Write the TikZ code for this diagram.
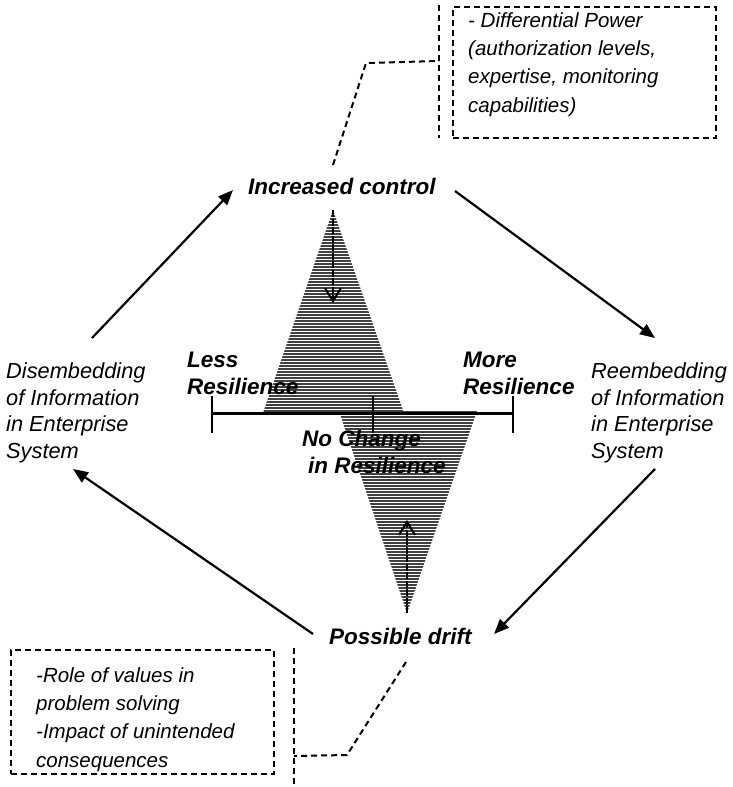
\documentclass[tikz,border=0pt]{standalone}
\usepackage{fontspec}
\setmainfont{Liberation Sans}
\usetikzlibrary{arrows.meta}
\begin{document}
\begin{tikzpicture}[x=1pt,y=-1pt,
  side/.style={anchor=base west, inner sep=0pt, align=left, font=\fontsize{21.8}{26.5}\selectfont\itshape},
  boxtext/.style={anchor=base west, inner sep=0pt, align=left, font=\fontsize{20.5}{28.3}\selectfont\itshape},
  lab/.style={anchor=base west, inner sep=0pt, align=left, font=\fontsize{22.5}{26.5}\selectfont\bfseries\itshape},
  flow/.style={line width=2.2pt, -{Triangle[length=15pt,width=12pt]}},
  dsh/.style={line width=2pt, dash pattern=on 6pt off 4pt},
  hatch/.style={line width=1.3pt, black!75},
  axisline/.style={line width=3pt},
  tickline/.style={line width=1.8pt},
  inarrow/.style={line width=2.5pt, dash pattern=on 7pt off 1.5pt, -{Straight Barb[length=13pt,width=16pt,line width=2pt]}},
]
\useasboundingbox (0,0) rectangle (733,787);

% shaded triangles
\begin{scope}
  \clip (333,210) -- (404,413) -- (263,413) -- cycle;
  \foreach \yy in {210,213,...,416} \draw[hatch] (250,\yy) -- (420,\yy);
\end{scope}
\begin{scope}
  \clip (339,411) -- (477,411) -- (407,613) -- cycle;
  \foreach \yy in {411,414,...,616} \draw[hatch] (330,\yy) -- (490,\yy);
\end{scope}

% resilience axis
\coordinate (axL) at (212,413);
\coordinate (axR) at (513,413);
\coordinate (axM) at (373,413);
\draw[axisline] (axL) -- (axR);
\draw[tickline] ([yshift=-20pt]axL) -- ([yshift=17pt]axL);
\draw[tickline] ([yshift=-20pt]axR) -- ([yshift=17pt]axR);
\draw[tickline] ([yshift=-20pt]axM) -- ([yshift=17pt]axM);

% inner arrows
\coordinate (upA) at (333,210);
\coordinate (upB) at (333,303);
\coordinate (loA) at (407,613);
\coordinate (loB) at (407,520);
\draw[inarrow] (upA) -- (upB);
\draw[inarrow] (loA) -- (loB);

% labels (anchor = baseline of last line)
\node[lab] (less) at (187,394) {Less\\Resilience};
\node[lab] (more) at (463,394) {More\\Resilience};
\node[lab] (nochg) at (302,473) {No Change\\\hspace*{6pt}in Resilience};

\node[lab] (ic) at (248,194) {Increased control};
\node[lab] (pd) at (329,644) {Possible drift};

\node[side] (dis) at (6,458) {Disembedding\\of Information\\in Enterprise\\System};
\node[side] (reb) at (591,458) {Reembedding\\of Information\\in Enterprise\\System};

% cycle arrows
\coordinate (a1s) at (92,338);  \coordinate (a1e) at (233,190);
\coordinate (a2s) at (455,191); \coordinate (a2e) at (655,338);
\coordinate (a3s) at (655,469); \coordinate (a3e) at (494,634);
\coordinate (a4s) at (313,634); \coordinate (a4e) at (73,469);
\draw[flow] (a1s) -- (a1e);
\draw[flow] (a2s) -- (a2e);
\draw[flow] (a3s) -- (a3e);
\draw[flow] (a4s) -- (a4e);

% top note
\node[draw, dsh, rectangle, minimum width=263pt, minimum height=131pt, anchor=north west, inner sep=0pt] (topbox) at (452,6) {};
\node[boxtext] (toptext) at (468,112) {- Differential Power\\(authorization levels,\\expertise, monitoring\\capabilities)};
\coordinate (tbA) at (439,5);
\coordinate (tbB) at (439,138);
\draw[dsh] (tbA) -- (tbB);
\coordinate (tc1) at (333,165);
\coordinate (tc2) at (366,63);
\coordinate (tc3) at (439,61);
\draw[dsh] (tc1) -- (tc2) -- (tc3);

% bottom note
\node[draw, dsh, rectangle, minimum width=263pt, minimum height=124pt, anchor=north west, inner sep=0pt] (botbox) at (10,649) {};
\node[boxtext] (bottext) at (36,767) {-Role of values in\\problem solving\\-Impact of unintended\\consequences};
\coordinate (bbA) at (294,648);
\coordinate (bbB) at (294,787);
\draw[dsh] (bbA) -- (bbB);
\coordinate (bc1) at (406,662);
\coordinate (bc2) at (347,755);
\coordinate (bc3) at (294,756);
\draw[dsh] (bc1) -- (bc2) -- (bc3);
\end{tikzpicture}
\end{document}
